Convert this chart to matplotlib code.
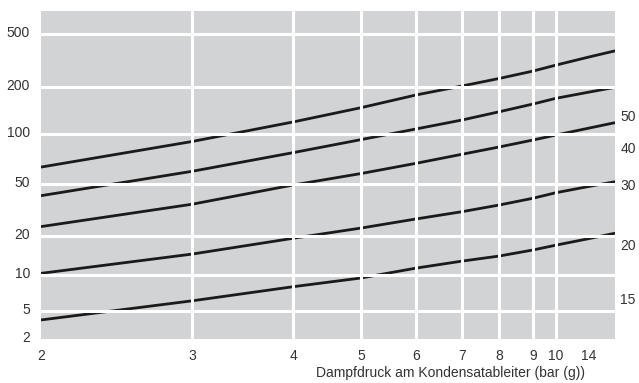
import numpy as np
import matplotlib
matplotlib.use('Agg')
import matplotlib.pyplot as plt
import matplotlib.transforms as mtransforms

plt.rcParams['font.family'] = ['Liberation Sans Narrow', 'Liberation Sans', 'DejaVu Sans']

# x: steam pressure (bar g), y: capacity; five curves
x_ticks = [2, 3, 4, 5, 6, 7, 8, 9, 10, 14]
y_ticks = [2, 5, 10, 20, 50, 100, 200, 500]

pressure = [2, 3, 4, 5, 6, 7, 8, 9, 10, 14, 17]
curve_a = [63.2, 90.1, 119.4, 147.4, 177.8, 203.5, 231.6, 263.4, 292.1, 336, 373.6]
curve_b = [40.7, 59.6, 77.2, 92.5, 107.7, 122.9, 138.7, 155.6, 169.3, 185.5, 199]
curve_c = [23.6, 35.0, 49.1, 57.8, 66.6, 75.5, 83.5, 92.0, 98.6, 109.1, 118.2]
curve_d = [10.3, 14.5, 19.2, 23.0, 27.0, 30.7, 34.5, 38.9, 42.9, 47.9, 51.6]
curve_e = [3.73, 6.08, 7.98, 9.44, 11.3, 12.8, 14.0, 15.6, 17.0, 19.1, 21.0]

right_labels = ['50', '40', '30', '20', '15']
right_label_pos = [0.677, 0.578, 0.466, 0.283, 0.119]

# the printed chart uses an irregular scale on both axes
x_anchor_val = np.array([2, 3, 4, 5, 6, 7, 8, 9, 10, 14, 17], dtype=float)
x_anchor_pos = np.array([0, 151, 252, 320, 375, 421, 458, 492, 515, 548, 574], dtype=float)
y_anchor_val = np.log10([2, 5, 10, 20, 50, 100, 200, 500, 745])
y_anchor_pos = np.array([0, 28, 64, 103, 155, 205, 252, 305, 328], dtype=float)


def x_fwd(v):
    return np.interp(v, x_anchor_val, x_anchor_pos)


def x_inv(p):
    return np.interp(p, x_anchor_pos, x_anchor_val)


def y_fwd(v):
    return np.interp(np.log10(np.clip(v, 1e-9, None)), y_anchor_val, y_anchor_pos)


def y_inv(p):
    return 10 ** np.interp(p, y_anchor_pos, y_anchor_val)


fig = plt.figure(figsize=(6.39, 3.83), dpi=100)
ax = fig.add_axes([41 / 639, 44 / 383, 574 / 639, 328 / 383])
ax.set_facecolor('#d2d3d5')
ax.set_xscale('function', functions=(x_fwd, x_inv))
ax.set_yscale('function', functions=(y_fwd, y_inv))
ax.set_xlim(2, 17)
ax.set_ylim(2, 745)

for c in [curve_a, curve_b, curve_c, curve_d, curve_e]:
    ax.plot(pressure, c, color='#1a1a1a', lw=2.0, solid_capstyle='butt', zorder=2)

for xv in x_ticks[1:-1]:
    ax.axvline(xv, color='white', lw=2.2, zorder=3)
for yv in y_ticks[1:]:
    ax.axhline(yv, color='white', lw=2.2, zorder=3)

ax.set_xticks(x_ticks)
ax.set_xticklabels([str(v) for v in x_ticks])
ax.set_yticks(y_ticks)
ax.set_yticklabels([str(v) for v in y_ticks])
ax.xaxis.set_minor_locator(matplotlib.ticker.NullLocator())
ax.yaxis.set_minor_locator(matplotlib.ticker.NullLocator())
ax.tick_params(length=0, labelsize=10, labelcolor='#333333')
ax.tick_params(axis='x', pad=7)
ax.tick_params(axis='y', pad=8)
# y labels sit slightly above their gridlines in the original
shift = mtransforms.ScaledTranslation(0, 2 / 72, fig.dpi_scale_trans)
for lab in ax.get_yticklabels():
    lab.set_transform(lab.get_transform() + shift)
for s in ax.spines.values():
    s.set_visible(False)

for lab, yp in zip(right_labels, right_label_pos):
    ax.text(1.009, yp, lab, transform=ax.transAxes, ha='left', va='center',
            fontsize=10, color='#333333')

ax.set_xlabel('Dampfdruck am Kondensatableiter (bar (g))', fontsize=10, color='#333333')
ax.xaxis.set_label_coords(0.714, -0.104)
ax.xaxis.label.set_va('center')

fig.savefig('out.png', dpi=100)
